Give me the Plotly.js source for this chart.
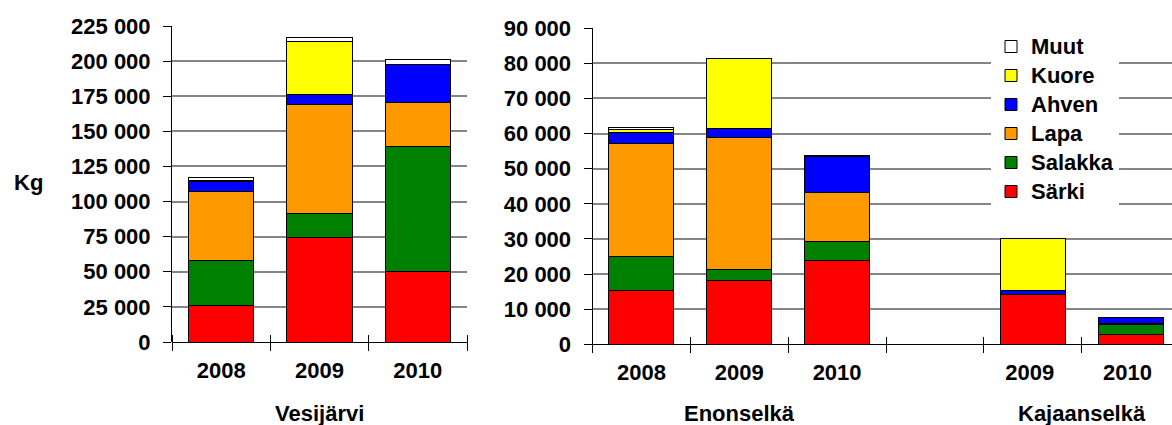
<!DOCTYPE html>
<html>
<head>
<meta charset="utf-8">
<script src="https://cdn.plot.ly/plotly-3.0.1.min.js"></script>
<style>html,body{margin:0;padding:0;background:#fff;}#chart{width:1172px;height:425px;}</style>
</head>
<body>
<div id="chart"></div>
<script>
// ---- data ----
const seriesNames = ['Särki', 'Salakka', 'Lapa', 'Ahven', 'Kuore', 'Muut'];
const seriesColors = ['#FF0000', '#008000', '#FF9900', '#0000FF', '#FFFF00', '#FFFFFF'];

const vesiYears = ['2008', '2009', '2010'];
const enoYears = ['2008', '2009', '2010'];
const kajYears = ['2009 ', '2010 '];
const gapCategory = [' '];

const groupLabels = ['Vesijärvi', 'Enonselkä', 'Kajaanselkä'];
const yLabel = 'Kg';

// Vesijärvi
const sarkiV = [26000, 74500, 50500];
const salakkaV = [31700, 17000, 88900];
const lapaV = [49400, 77800, 30800];
const ahvenV = [7100, 7100, 27300];
const kuoreV = [900, 37700, 0];
const muutV = [1900, 3000, 3500];

// Enonselkä
const sarkiE = [15200, 18300, 23900];
const salakkaE = [9700, 3100, 5500];
const lapaE = [32300, 37600, 13900];
const ahvenE = [3000, 2500, 10100];
const kuoreE = [1100, 19900, 0];
const muutE = [300, 0, 300];

// Kajaanselkä
const sarkiK = [14100, 2900];
const salakkaK = [0, 2800];
const lapaK = [0, 100];
const ahvenK = [1200, 1700];
const kuoreK = [14700, 0];
const muutK = [0, 0];

// ---- build ----
const vesiSeries = [sarkiV, salakkaV, lapaV, ahvenV, kuoreV, muutV];
const enoSeries = [sarkiE, salakkaE, lapaE, ahvenE, kuoreE, muutE];
const kajSeries = [sarkiK, salakkaK, lapaK, ahvenK, kuoreK, muutK];
const rightCats = enoYears.concat(gapCategory, kajYears);
const nz = v => (v ? v : null);

const FONT = 'Liberation Sans, Arial, sans-serif';
const traces = [];
seriesNames.forEach((name, i) => {
  traces.push({
    type: 'bar', name: name, x: vesiYears, y: vesiSeries[i].map(nz),
    xaxis: 'x', yaxis: 'y', legendgroup: name, showlegend: false,
    marker: {color: seriesColors[i], line: {color: '#000', width: 1}},
    hoverinfo: 'x+y+name'
  });
  traces.push({
    type: 'bar', name: '<span style="font-size:22px">' + name + '</span>', x: rightCats,
    y: enoSeries[i].map(nz).concat([null], kajSeries[i].map(nz)),
    xaxis: 'x2', yaxis: 'y2', legendgroup: name, showlegend: true,
    marker: {color: seriesColors[i], line: {color: '#000', width: 1}},
    hoverinfo: 'x+y'
  });
});

const H = 425, W = 1172;
const leftDom = {x: [172 / W, 467 / W], y: [1 - 342 / H, 1 - 26 / H]};
const rightDom = {x: [592.5 / W, 1], y: [1 - 344.3 / H, 1 - 28.2 / H]};

const tickFont = {family: FONT, size: 22, weight: 'bold', color: '#000'};
const yCommon = {
  tickformat: ',d', ticks: 'outside', ticklen: 8, tickcolor: '#000',
  showgrid: true, gridcolor: '#858585', gridwidth: 2,
  showline: true, linecolor: '#000', linewidth: 1,
  zeroline: true, zerolinecolor: '#000', zerolinewidth: 1,
  tickfont: tickFont, ticklabelstandoff: 8, fixedrange: true
};
// category ticks cross the zero line: axis drawn 8px above zero with 16px ticks
const xCommon = {
  type: 'category', anchor: 'free', ticks: 'outside', ticklen: 16, tickcolor: '#000',
  tickson: 'boundaries', showline: false, showgrid: false, zeroline: false,
  tickfont: tickFont, ticklabelstandoff: 21, fixedrange: true
};

const layout = {
  width: W, height: H,
  margin: {l: 0, r: 0, t: 0, b: 0},
  paper_bgcolor: '#fff', plot_bgcolor: 'rgba(0,0,0,0)',
  separators: ', ',
  barmode: 'stack', bargap: 0.335,
  font: {family: FONT, size: 22, weight: 'bold', color: '#000'},
  xaxis: Object.assign({}, xCommon, {domain: leftDom.x, position: leftDom.y[0] + 8 / H,
    categoryorder: 'array', categoryarray: vesiYears, range: [-0.5, 2.5]}),
  yaxis: Object.assign({}, yCommon, {domain: leftDom.y, anchor: 'x',
    range: [0, 225000], dtick: 25000, tick0: 0}),
  xaxis2: Object.assign({}, xCommon, {domain: rightDom.x, position: rightDom.y[0] + 8 / H,
    categoryorder: 'array', categoryarray: rightCats, range: [-0.5, 5.423]}),
  yaxis2: Object.assign({}, yCommon, {domain: rightDom.y, anchor: 'x2',
    range: [0, 90000], dtick: 10000, tick0: 0}),
  showlegend: true,
  legend: {
    x: 991 / W, xanchor: 'left', y: 1 - 27 / H, yanchor: 'top',
    bgcolor: '#fff', borderwidth: 0, traceorder: 'reversed',
    font: {family: FONT, size: 20, weight: 'bold', color: '#000'}
  },
  annotations: [
    {text: yLabel, xref: 'paper', yref: 'paper', x: 28 / W, y: 1 - 182 / H,
     xanchor: 'center', yanchor: 'middle', showarrow: false},
    {text: groupLabels[0], xref: 'x', yref: 'paper', x: 1, y: 1 - 413 / H,
     xanchor: 'center', yanchor: 'middle', showarrow: false},
    {text: groupLabels[1], xref: 'x2', yref: 'paper', x: 1, y: 1 - 413 / H,
     xanchor: 'center', yanchor: 'middle', showarrow: false},
    {text: groupLabels[2], xref: 'x2', yref: 'paper', x: 4.5, y: 1 - 413 / H,
     xanchor: 'center', yanchor: 'middle', showarrow: false}
  ]
};

Plotly.newPlot('chart', traces, layout, {displayModeBar: false, staticPlot: true});
</script>
</body>
</html>
